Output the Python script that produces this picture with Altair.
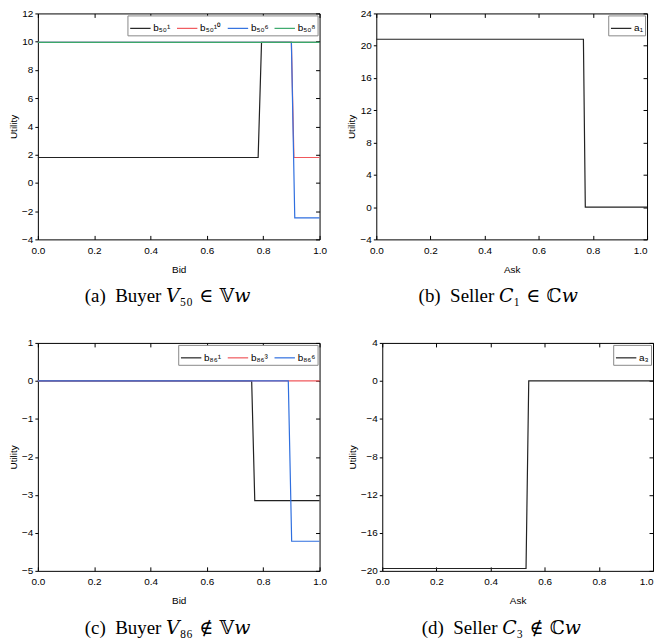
import altair as alt
import pandas as pd

# ---------------- data ----------------
x_ticks = [0.0, 0.2, 0.4, 0.6, 0.8, 1.0]

# (a) Buyer V50
a_names = ["b₅₀¹", "b₅₀¹⁰", "b₅₀⁶", "b₅₀⁸"]
a_x = [[0.0, 0.782, 0.794, 1.0], [0.0, 0.900, 0.909, 1.0], [0.0, 0.900, 0.912, 1.0], [0.0, 1.0]]
a_y = [[1.8, 1.8, 9.95, 9.95], [9.95, 9.95, 1.8, 1.8], [9.95, 9.95, -2.48, -2.48], [9.95, 9.95]]
a_colors = ["#222222", "#f0585c", "#2f6fdf", "#3aa86a"]
a_ydom = [-4, 12]
a_yticks = [-4, -2, 0, 2, 4, 6, 8, 10, 12]

# (b) Seller C1
b_names = ["a₁"]
b_x = [[0.0, 0.765, 0.772, 1.0]]
b_y = [[20.8, 20.8, 0.0, 0.0]]
b_colors = ["#222222"]
b_ydom = [-4, 24]
b_yticks = [-4, 0, 4, 8, 12, 16, 20, 24]

# (c) Buyer V86
c_names = ["b₈₆¹", "b₈₆³", "b₈₆⁶"]
c_x = [[0.0, 0.759, 0.770, 1.0], [0.0, 1.0], [0.0, 0.889, 0.901, 1.0]]
c_y = [[0.0, 0.0, -3.15, -3.15], [0.0, 0.0], [0.0, 0.0, -4.22, -4.22]]
c_colors = ["#222222", "#f0585c", "#2f6fdf"]
c_ydom = [-5, 1]
c_yticks = [-5, -4, -3, -2, -1, 0, 1]

# (d) Seller C3
d_names = ["a₃"]
d_x = [[0.0, 0.531, 0.541, 1.0]]
d_y = [[-19.75, -19.75, 0.0, 0.0]]
d_colors = ["#222222"]
d_ydom = [-20, 4]
d_yticks = [-20, -16, -12, -8, -4, 0, 4]

captions = [
    "(a)\u2002Buyer 𝑉₅₀\u2004∈\u2004𝕍𝑤",
    "(b)\u2002Seller 𝐶₁\u2004∈\u2004ℂ𝑤",
    "(c)\u2002Buyer 𝑉₈₆\u2004∉\u2004𝕍𝑤",
    "(d)\u2002Seller 𝐶₃\u2004∉\u2004ℂ𝑤",
]


def panel(names, xs, ys, colors, ydom, yticks, xtitle, caption, W, H, flush_last=False):
    xsc = alt.Scale(domain=[0, 1], nice=False, zero=False)
    ysc = alt.Scale(domain=ydom, nice=False, zero=False)
    color = alt.Color(
        "s:N",
        scale=alt.Scale(domain=names, range=colors),
        legend=alt.Legend(
            orient="top-right", direction="horizontal", title=None,
            symbolType="stroke", symbolSize=420, symbolStrokeWidth=1.2,
            labelFontSize=10, labelFont="Liberation Sans", labelColor="black",
            strokeColor="#888888", fillColor="white", padding=2, offset=2,
            columnPadding=3, labelOffset=2, cornerRadius=0,
        ),
    )
    label_align = "center"
    if flush_last:
        label_align = {"condition": {"test": "datum.value == 1", "value": "right"}, "value": "center"}
    frames = []
    layers = []
    for k, (n, xx, yy) in enumerate(zip(names, xs, ys)):
        df = pd.DataFrame({"x": xx, "y": yy, "s": [n] * len(xx), "i": list(range(len(xx)))})
        frames.append(df)
        if k == 0:
            xenc = alt.X("x:Q", scale=xsc, axis=alt.Axis(
                orient="bottom", values=x_ticks, format=".1f", tickSize=0, labelPadding=6,
                labelAlign=label_align,
                domain=False, grid=False, title=xtitle, titlePadding=9))
            yenc = alt.Y("y:Q", scale=ysc, axis=alt.Axis(
                orient="left", values=yticks, tickSize=3, labelPadding=2,
                domain=False, grid=False, title="Utility", titlePadding=3))
        else:
            xenc = alt.X("x:Q", scale=xsc, axis=None)
            yenc = alt.Y("y:Q", scale=ysc, axis=None)
        layers.append(
            alt.Chart(df).mark_line(strokeWidth=1.2).encode(x=xenc, y=yenc, color=color, order="i:Q")
        )
    alldf = pd.concat(frames)
    t1 = alt.Chart(alldf).mark_line(opacity=0).encode(
        x=alt.X("x:Q", scale=xsc, axis=alt.Axis(orient="top", offset=-H, values=x_ticks, labels=False,
                                                domain=False, tickSize=4, grid=False, title=None)),
        y=alt.Y("y:Q", scale=ysc, axis=alt.Axis(orient="left", offset=-W, values=yticks, labels=False,
                                                domain=False, tickSize=4, grid=False, title=None)),
        detail="s:N",
    )
    t2 = alt.Chart(alldf).mark_line(opacity=0).encode(
        x=alt.X("x:Q", scale=xsc, axis=alt.Axis(orient="bottom", offset=-H, values=x_ticks, labels=False,
                                                domain=False, tickSize=4, grid=False, title=None)),
        y=alt.Y("y:Q", scale=ysc, axis=None),
        detail="s:N",
    )
    return (
        alt.layer(*layers, t1, t2)
        .resolve_axis(x="independent", y="independent")
        .properties(
            width=W, height=H,
            title=alt.TitleParams(caption, orient="bottom", anchor="middle", frame="bounds",
                                  font="Liberation Serif, DejaVu Serif", fontSize=19,
                                  fontWeight="normal", color="black", offset=13),
        )
    )


pa = panel(a_names, a_x, a_y, a_colors, a_ydom, a_yticks, "Bid", captions[0], 283, 227)
pb = panel(b_names, b_x, b_y, b_colors, b_ydom, b_yticks, "Ask", captions[1], 272, 227, True)
pc = panel(c_names, c_x, c_y, c_colors, c_ydom, c_yticks, "Bid", captions[2], 283, 229)
pd_ = panel(d_names, d_x, d_y, d_colors, d_ydom, d_yticks, "Ask", captions[3], 272, 229, True)

row1 = alt.hconcat(pa, pb, spacing=19).resolve_scale(color="independent")
row2 = alt.hconcat(pc, pd_, spacing=19).resolve_scale(color="independent")

chart = (
    alt.vconcat(row1, row2, spacing=30)
    .resolve_scale(color="independent")
    .properties(padding={"left": 0, "top": -2, "right": 0, "bottom": 0})
    .configure_view(stroke="black", strokeWidth=1)
    .configure_axis(labelFont="Liberation Sans", labelFontSize=10, titleFont="Liberation Sans",
                    titleFontSize=10, titleFontWeight="normal", tickColor="black",
                    labelColor="black", titleColor="black")
)

chart.save("out.html", embed_options={"renderer": "svg", "actions": False})
